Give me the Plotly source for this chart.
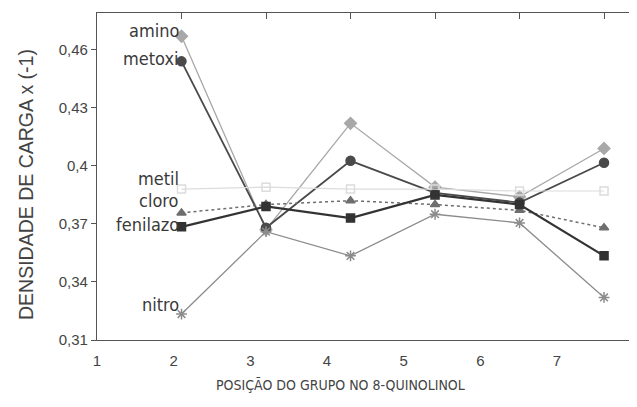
import plotly.graph_objects as go

positions = [2, 3, 4, 5, 6, 7]
series_names = ["amino", "metoxi", "metil", "cloro", "fenilazo", "nitro"]
amino = [0.467, 0.367, 0.422, 0.389, 0.384, 0.409]
metoxi = [0.454, 0.368, 0.4026, 0.386, 0.381, 0.4016]
metil = [0.388, 0.389, 0.388, 0.388, 0.387, 0.387]
cloro = [0.3757, 0.380, 0.382, 0.380, 0.377, 0.368]
fenilazo = [0.3685, 0.379, 0.373, 0.385, 0.380, 0.3535]
nitro = [0.3234, 0.366, 0.3535, 0.375, 0.3705, 0.332]

label_y = [0.4699, 0.4554, 0.3933, 0.3819, 0.3695, 0.3286]

x_tick_vals = [1, 2, 3, 4, 5, 6, 7]
y_tick_vals = [0.31, 0.34, 0.37, 0.40, 0.43, 0.46]
y_tick_text = ["0,31", "0,34", "0,37", "0,4", "0,43", "0,46"]

styles = {
    "amino": dict(color="#a8a8a8", symbol="diamond", size=9, width=1.3, dash="solid"),
    "metoxi": dict(color="#4a4a4a", symbol="circle", size=9, width=1.8, dash="solid"),
    "metil": dict(color="#dcdcdc", symbol="square-open", size=8, width=1.2, dash="solid"),
    "cloro": dict(color="#6e6e6e", symbol="triangle-up", size=8, width=1.5, dash="dot"),
    "fenilazo": dict(color="#333333", symbol="square", size=8, width=2.2, dash="solid"),
    "nitro": dict(color="#8c8c8c", symbol="asterisk-open", size=9, width=1.3, dash="solid"),
}

data = [amino, metoxi, metil, cloro, fenilazo, nitro]

NARROW = "DejaVu Sans Condensed, Liberation Sans Narrow, Arial Narrow, sans-serif"
REG = "Liberation Sans, Arial, sans-serif"

W, H = 629, 399
L, R, T, B = 89, 0, 5, 67
PW, PH = W - L - R, H - T - B

fig = go.Figure()
for name, vals in zip(series_names, data):
    s = styles[name]
    fig.add_trace(go.Scatter(
        x=positions, y=vals, mode="lines+markers", name=name,
        line=dict(color=s["color"], width=s["width"], dash=s["dash"]),
        marker=dict(color=s["color"], symbol=s["symbol"], size=s["size"],
                    line=dict(color=s["color"], width=1.5)),
        showlegend=False, hoverinfo="skip",
    ))

# invisible trace carrying the bottom tick-label axis
fig.add_trace(go.Scatter(x=[1], y=[None], xaxis="x2", yaxis="y",
                         mode="markers", showlegend=False, hoverinfo="skip"))

for name, ly in zip(series_names, label_y):
    fig.add_annotation(x=2, y=ly, xref="x", yref="y", text=name,
                       showarrow=False, xanchor="right", yanchor="middle",
                       xshift=-1,
                       font=dict(family=NARROW, size=18, color="#3a3a3a"))

# x-axis title (page coords -> figure coords: minus 8px body margin)
fig.add_annotation(x=(332 - L) / PW, y=1 - (377 - T) / PH, xref="paper", yref="paper",
                   text="POSIÇÃO DO GRUPO NO 8-QUINOLINOL", showarrow=False,
                   xanchor="center", yanchor="middle",
                   font=dict(family=NARROW, size=14, color="#444"))

# y-axis title
fig.add_annotation(x=(18 - L) / PW, y=1 - (177 - T) / PH, xref="paper", yref="paper",
                   text="DENSIDADE DE CARGA x (-1)", showarrow=False, textangle=-90,
                   xanchor="center", yanchor="middle",
                   font=dict(family=REG, size=19.5, color="#444"))

fig.update_layout(
    width=W, height=H,
    margin=dict(l=L, r=R, t=T, b=B),
    paper_bgcolor="white", plot_bgcolor="white",
    xaxis=dict(range=[1, 7.39], tickvals=x_tick_vals, side="top",
               ticks="inside", ticklen=6, tickcolor="#555",
               showticklabels=False, showline=True, linecolor="#555",
               linewidth=1.2, mirror=True, showgrid=False, zeroline=False,
               automargin=False),
    xaxis2=dict(range=[0.9999, 8.043], overlaying="x", side="bottom",
                tickvals=x_tick_vals, ticks="", showline=False,
                showgrid=False, zeroline=False, automargin=False,
                ticklabelstandoff=10,
                tickfont=dict(family=REG, size=15, color="#444")),
    yaxis=dict(range=[0.31, 0.479], tickvals=y_tick_vals, ticktext=y_tick_text,
               ticks="outside", ticklen=5, tickcolor="#555",
               showline=True, linecolor="#555", linewidth=1.2,
               showgrid=False, zeroline=False, automargin=False,
               tickfont=dict(family=REG, size=15, color="#444")),
)

fig.write_html("out.html")
